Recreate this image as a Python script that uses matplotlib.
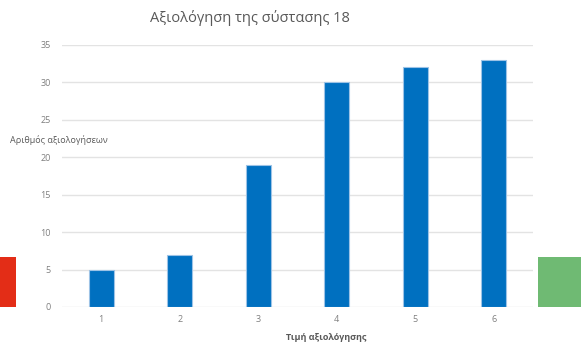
import matplotlib.pyplot as plt
from matplotlib.patches import Rectangle

plt.rcParams['font.family'] = ['Open Sans', 'DejaVu Sans']

categories = ["1", "2", "3", "4", "5", "6"]
counts = [5, 7, 19, 30, 32, 33]
yticks = [0, 5, 10, 15, 20, 25, 30, 35]

W, H = 581, 343
fig = plt.figure(figsize=(W / 100, H / 100), dpi=100)

# axes box in pixel terms: left 62, right 533, bottom y=307, top y=45
ax = fig.add_axes([62 / W, 1 - 307 / H, (533 - 62) / W, (307 - 45) / H])
x = range(len(categories))
ax.bar(x, counts, width=0.32, color="#0070C0", edgecolor="#9DC3E6", linewidth=0.8, zorder=3)

ax.set_xlim(-0.5, len(categories) - 0.5)
ax.set_ylim(0, 35)
ax.set_yticks(yticks)
ax.set_xticks(list(x))
ax.set_xticklabels(categories)
ax.grid(axis="y", color="#E3E3E3", linewidth=1, zorder=0)
for s in ax.spines.values():
    s.set_visible(False)
ax.tick_params(length=0, colors="#7F7F7F", labelsize=6.5, pad=8)
ax.tick_params(axis="x", pad=6)

fig.text(250 / W, 1 - 18 / H, "Αξιολόγηση της σύστασης 18", ha="center", va="center",
         fontsize=10.5, color="#595959")
fig.text(10 / W, 1 - 140 / H, "Αριθμός αξιολογήσεων", ha="left", va="center",
         fontsize=6.5, color="#595959")
fig.text(326 / W, 1 - 337 / H, "Τιμή αξιολόγησης", ha="center", va="center",
         fontsize=6.5, color="#595959", fontweight="bold")

# side markers
fig.add_artist(Rectangle((0, 1 - 307 / H), 16 / W, 50 / H, transform=fig.transFigure,
                         color="#E32D17", lw=0))
fig.add_artist(Rectangle((538 / W, 1 - 307 / H), 43 / W, 50 / H, transform=fig.transFigure,
                         color="#6FBA73", lw=0))

fig.savefig("out.png", dpi=100)
